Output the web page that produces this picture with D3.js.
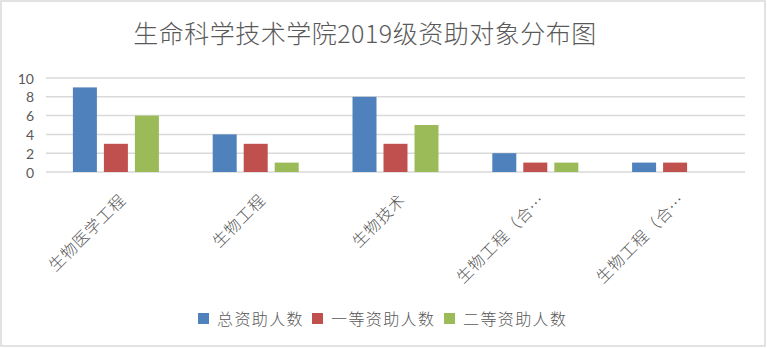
<!DOCTYPE html>
<html><head><meta charset="utf-8">
<script src="https://cdn.jsdelivr.net/npm/d3@7"></script>
<style>
html,body{margin:0;padding:0;background:#fff;}
svg text{font-family:"Noto Sans CJK SC","Noto Sans",sans-serif;}
</style></head>
<body>
<svg id="c" width="767" height="349"></svg>
<script>
const title = "生命科学技术学院2019级资助对象分布图";
const categories = ["生物医学工程","生物工程","生物技术","生物工程（合…","生物工程（合…"];
const seriesNames = ["总资助人数","一等资助人数","二等资助人数"];
const totalValues = [9,4,8,2,1];
const firstValues = [3,3,3,1,1];
const secondValues = [6,1,5,1,0];
const yTicks = [0,2,4,6,8,10];
const colors = ["#4f81bd","#c0504d","#9bbb59"];

const series = [totalValues, firstValues, secondValues];
const svg = d3.select("#c");
const W = 767, H = 349;
const m = {left:46, right:22, top:78, bottom:177};

svg.append("rect").attr("x",1).attr("y",1).attr("width",W-3).attr("height",H-4)
  .attr("fill","#fff").attr("stroke","#d9d9d9").attr("stroke-width",1.5);

svg.append("text").attr("x",365).attr("y",43).attr("text-anchor","middle")
  .attr("fill","#595959").style("font-size","25px").style("font-weight","300")
  .style("letter-spacing","0.5px")
  .text(title);

const x = d3.scaleBand().domain(d3.range(categories.length)).range([m.left, W-m.right]);
const xi = d3.scaleBand().domain(d3.range(series.length)).range([0, 86]).paddingInner(0.226);
const y = d3.scaleLinear().domain([0,10]).range([H-m.bottom, m.top]);

// grid
svg.append("g").selectAll("line").data(yTicks).join("line")
  .attr("x1",m.left).attr("x2",W-m.right)
  .attr("y1",d=>y(d)).attr("y2",d=>y(d))
  .attr("stroke","#d9d9d9").attr("stroke-width",1.5);

// y axis labels
const yAxis = d3.axisLeft(y).tickValues(yTicks).tickSize(0).tickPadding(0);
const ya = svg.append("g").attr("transform",`translate(34,0)`).call(yAxis);
ya.select(".domain").remove();
ya.selectAll("text").attr("fill","#595959").style("font-size","14px")
  .style("font-family","Lato, 'Liberation Sans', sans-serif").attr("dy","0.36em");

// bars
series.forEach((vals, s) => {
  svg.append("g").selectAll("rect").data(vals).join("rect")
    .attr("x",(d,i)=> x(i) + (x.bandwidth()-86)/2 + xi(s))
    .attr("width",xi.bandwidth())
    .attr("y",d=>y(d)).attr("height",d=>y(0)-y(d))
    .attr("fill",colors[s]);
});

// x labels
svg.append("g").selectAll("text").data(categories).join("text")
  .attr("transform",(d,i)=>`translate(${x(i)+x.bandwidth()/2+11},201) rotate(-45)`)
  .attr("text-anchor","end").attr("fill","#595959")
  .style("font-size","16px").style("letter-spacing","0.8px").style("font-weight","300")
  .text(d=>d);

// legend
const legX = [198, 312, 444];
const lg = svg.append("g").selectAll("g").data(seriesNames).join("g")
  .attr("transform",(d,i)=>`translate(${legX[i]},313)`);
lg.append("rect").attr("width",11).attr("height",11).attr("fill",(d,i)=>colors[i]);
lg.append("text").attr("x",19).attr("y",12).attr("fill","#595959")
  .style("font-size","16px").style("letter-spacing","1.4px").style("font-weight","300").text(d=>d);
</script>
</body></html>
